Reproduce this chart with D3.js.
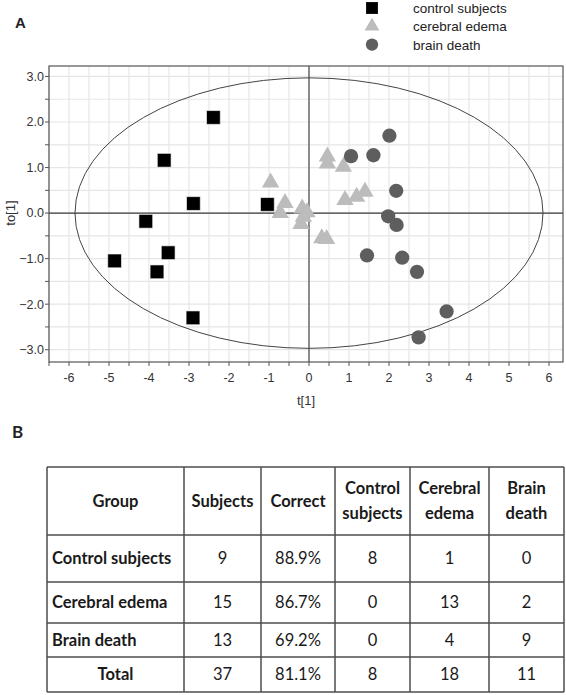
<!DOCTYPE html>
<html>
<head>
<meta charset="utf-8">
<script src="https://cdn.jsdelivr.net/npm/d3@7"></script>
<style>
  html, body { margin: 0; padding: 0; background: #fff; }
  svg { display: block; }
</style>
</head>
<body>
<script>
// ---------------- DATA ----------------
const seriesNames = ["control subjects", "cerebral edema", "brain death"];

// t[1], to[1] score pairs
const controlPoints = [
  [-2.39, 2.10], [-3.62, 1.16], [-2.89, 0.21], [-1.04, 0.19], [-4.08, -0.18],
  [-4.86, -1.05], [-3.52, -0.87], [-3.80, -1.29], [-2.90, -2.30]
];
const edemaPoints = [
  [-0.96, 0.67], [-0.60, 0.22], [-0.72, 0.00], [-0.17, 0.10], [-0.14, -0.08],
  [-0.20, -0.24], [-0.05, 0.02], [0.32, -0.55], [0.44, -0.57], [0.46, 1.24],
  [0.46, 1.09], [0.86, 1.02], [0.90, 0.29], [1.19, 0.36], [1.40, 0.47]
];
const deathPoints = [
  [2.01, 1.70], [1.05, 1.25], [1.61, 1.27], [2.18, 0.49], [1.98, -0.07],
  [2.19, -0.26], [1.45, -0.93], [2.33, -0.98], [2.70, -1.29], [3.44, -2.16],
  [2.74, -2.73]
];
const ellipseRadii = [5.85, 2.97];

const xTicks = [-6, -5, -4, -3, -2, -1, 0, 1, 2, 3, 4, 5, 6];
const yTicks = [-3, -2, -1, 0, 1, 2, 3];
const xLabel = "t[1]";
const yLabel = "to[1]";

// Table
const tableHeaders = [["Group"], ["Subjects"], ["Correct"], ["Control", "subjects"], ["Cerebral", "edema"], ["Brain", "death"]];
const tableGroups = ["Control subjects", "Cerebral edema", "Brain death", "Total"];
const tableSubjects = ["9", "15", "13", "37"];
const tableCorrect = ["88.9%", "86.7%", "69.2%", "81.1%"];
const predControl = ["8", "0", "0", "8"];
const predEdema = ["1", "13", "4", "18"];
const predDeath = ["0", "2", "9", "11"];

// ---------------- DRAW ----------------
const W = 566, H = 695;
const svg = d3.select("body").append("svg").attr("width", W).attr("height", H);

const plot = { left: 49, right: 563, top: 66, bottom: 362 };
const x = d3.scaleLinear().domain([-6.5, 6.35]).range([plot.left, plot.right]);
const y = d3.scaleLinear().domain([-3.27, 3.23]).range([plot.bottom, plot.top]);

const axisFont = "'Liberation Sans', Arial, sans-serif";

// grid
const xGrid = d3.range(-6.5, 6.35, 0.5);
const yGrid = d3.range(-3.0, 3.21, 0.5);
const g = svg.append("g");
g.selectAll(".gx").data(xGrid).join("line")
  .attr("x1", d => x(d)).attr("x2", d => x(d))
  .attr("y1", plot.top).attr("y2", plot.bottom)
  .attr("stroke", "#e6e6e6").attr("stroke-width", 1.2);
g.selectAll(".gy").data(yGrid).join("line")
  .attr("x1", plot.left).attr("x2", plot.right)
  .attr("y1", d => y(d)).attr("y2", d => y(d))
  .attr("stroke", "#e6e6e6").attr("stroke-width", 1.2);

// zero lines
g.append("line").attr("x1", x(0)).attr("x2", x(0)).attr("y1", plot.top).attr("y2", plot.bottom)
  .attr("stroke", "#3a3a3a").attr("stroke-width", 1.1);
g.append("line").attr("x1", plot.left).attr("x2", plot.right).attr("y1", y(0)).attr("y2", y(0))
  .attr("stroke", "#3a3a3a").attr("stroke-width", 1.1);

// ellipse
g.append("ellipse")
  .attr("cx", x(0)).attr("cy", y(0))
  .attr("rx", x(ellipseRadii[0]) - x(0))
  .attr("ry", y(0) - y(ellipseRadii[1]))
  .attr("fill", "none").attr("stroke", "#444").attr("stroke-width", 1);

// frame
g.append("rect").attr("x", plot.left).attr("y", plot.top)
  .attr("width", plot.right - plot.left).attr("height", plot.bottom - plot.top)
  .attr("fill", "none").attr("stroke", "#555").attr("stroke-width", 1.2);

// ticks
g.selectAll(".tx").data(xGrid).join("line")
  .attr("x1", d => x(d)).attr("x2", d => x(d))
  .attr("y1", plot.bottom).attr("y2", plot.bottom + 4)
  .attr("stroke", "#555");
g.selectAll(".ty").data(yGrid).join("line")
  .attr("x1", plot.left - 4).attr("x2", plot.left)
  .attr("y1", d => y(d)).attr("y2", d => y(d))
  .attr("stroke", "#555");

g.selectAll(".lx").data(xTicks).join("text")
  .attr("x", d => x(d)).attr("y", plot.bottom + 20)
  .attr("text-anchor", "middle")
  .attr("font-family", axisFont).attr("font-size", 12.5).attr("fill", "#333")
  .text(d => d);
g.selectAll(".ly").data(yTicks).join("text")
  .attr("x", plot.left - 5).attr("y", d => y(d)).attr("dy", "0.35em")
  .attr("text-anchor", "end")
  .attr("font-family", axisFont).attr("font-size", 12.5).attr("fill", "#333")
  .text(d => d3.format(".1f")(d));

svg.append("text").attr("x", 306).attr("y", 405).attr("text-anchor", "middle")
  .attr("font-family", axisFont).attr("font-size", 13).attr("fill", "#333").text(xLabel);
svg.append("text").attr("transform", `translate(15, ${y(0)}) rotate(-90)`).attr("text-anchor", "middle")
  .attr("font-family", axisFont).attr("font-size", 13).attr("fill", "#333").text(yLabel);

// points
const symSquare = d3.symbol().type(d3.symbolSquare).size(190);
const symTri = d3.symbol().type(d3.symbolTriangle).size(130);
const symCirc = d3.symbol().type(d3.symbolCircle).size(160);

g.selectAll(".pc").data(controlPoints).join("path")
  .attr("d", symSquare).attr("transform", d => `translate(${x(d[0])},${y(d[1])})`)
  .attr("fill", "#000").attr("stroke", "#fff").attr("stroke-width", 0.6);
g.selectAll(".pe").data(edemaPoints).join("path")
  .attr("d", symTri).attr("transform", d => `translate(${x(d[0])},${y(d[1])})`)
  .attr("fill", "#bcbcbc");
g.selectAll(".pd").data(deathPoints).join("path")
  .attr("d", symCirc).attr("transform", d => `translate(${x(d[0])},${y(d[1])})`)
  .attr("fill", "#5e5e5e");

// legend
const legendSyms = [
  d3.symbol().type(d3.symbolSquare).size(140)(),
  d3.symbol().type(d3.symbolTriangle).size(95)(),
  d3.symbol().type(d3.symbolCircle).size(120)()
];
const legendFills = ["#000", "#bcbcbc", "#5e5e5e"];
const lg = svg.append("g");
seriesNames.forEach((name, i) => {
  const cy = 8 + i * 18.3;
  lg.append("path").attr("d", legendSyms[i]).attr("transform", `translate(372,${cy})`).attr("fill", legendFills[i]);
  lg.append("text").attr("x", 413).attr("y", cy + 5).attr("font-family", axisFont)
    .attr("font-size", 13.5).attr("fill", "#222").text(name);
});

// panel labels
svg.append("text").attr("x", 15).attr("y", 28).attr("font-family", axisFont)
  .attr("font-size", 15).attr("font-weight", "bold").attr("fill", "#222").text("A");
const tableFont = "Lato, 'Open Sans', sans-serif";
svg.append("text").attr("x", 12).attr("y", 438).attr("font-family", tableFont)
  .attr("font-size", 17).attr("font-weight", "bold").attr("fill", "#222").text("B");

// ---------------- TABLE ----------------
const colEdges = [47, 184, 261, 335, 410, 489, 564];
const rowEdges = [467, 535, 582, 623, 657, 692];
const tg = svg.append("g");
const lineColor = "#4d4d4d";
colEdges.forEach(cx => tg.append("line").attr("x1", cx).attr("x2", cx)
  .attr("y1", rowEdges[0]).attr("y2", rowEdges[rowEdges.length - 1])
  .attr("stroke", lineColor).attr("stroke-width", 1.5));
rowEdges.forEach(ry => tg.append("line").attr("x1", colEdges[0]).attr("x2", colEdges[colEdges.length - 1])
  .attr("y1", ry).attr("y2", ry)
  .attr("stroke", lineColor).attr("stroke-width", 1.5));

const colMid = i => (colEdges[i] + colEdges[i + 1]) / 2;
const rowMid = i => (rowEdges[i] + rowEdges[i + 1]) / 2;
const fs = 16.5;

tableHeaders.forEach((lines, i) => {
  const n = lines.length;
  lines.forEach((ln, j) => {
    tg.append("text").attr("x", colMid(i))
      .attr("y", rowMid(0) + (j - (n - 1) / 2) * 25).attr("dy", "0.36em")
      .attr("text-anchor", "middle").attr("font-family", tableFont)
      .attr("font-size", fs).attr("font-weight", "bold").attr("fill", "#1a1a1a").text(ln);
  });
});

const bodyCols = [tableSubjects, tableCorrect, predControl, predEdema, predDeath];
tableGroups.forEach((grp, r) => {
  const isTotal = r === tableGroups.length - 1;
  tg.append("text")
    .attr("x", isTotal ? colMid(0) : colEdges[0] + 5)
    .attr("y", rowMid(r + 1)).attr("dy", "0.36em")
    .attr("text-anchor", isTotal ? "middle" : "start")
    .attr("font-family", tableFont).attr("font-size", fs).attr("font-weight", "bold")
    .attr("fill", "#1a1a1a").text(grp);
  bodyCols.forEach((col, c) => {
    tg.append("text").attr("x", colMid(c + 1)).attr("y", rowMid(r + 1)).attr("dy", "0.36em")
      .attr("text-anchor", "middle").attr("font-family", tableFont).attr("font-size", fs)
      .attr("fill", "#1a1a1a").text(col[r]);
  });
});
</script>
</body>
</html>
